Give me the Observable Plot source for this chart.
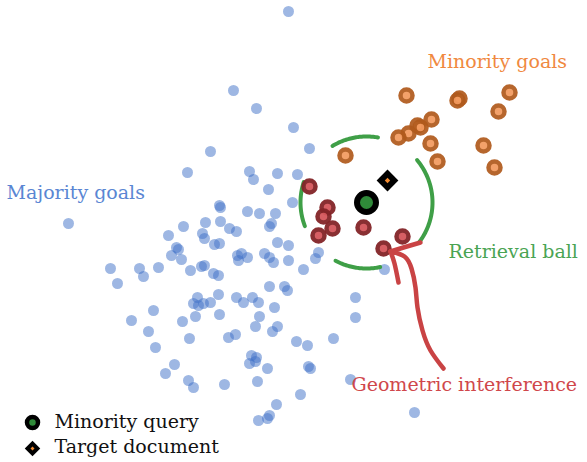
<!DOCTYPE html>
<html>
<head>
<meta charset="utf-8">
<script src="https://cdn.jsdelivr.net/npm/d3@7"></script>
<script src="https://cdn.jsdelivr.net/npm/@observablehq/plot@0.6"></script>
<style>
  html, body { margin: 0; padding: 0; background: #fff; }
  #chart svg { display: block; }
</style>
</head>
<body>
<div id="chart"></div>
<script>
// ---- Data (embedding coordinates, y grows downward) ----
const majorityGoals = [
  [288,11],[233,90],[256,108],[293,127],[210,151],[309,148],[187,172],[249,171],[253,179],
  [277,173],[297,174],[268,189],[292,202],[219,205],[220,207],[247,211],[259,213],[275,213],
  [205,222],[220,221],[183,226],[229,228],[236,231],[271,223],[269,226],[202,233],[204,238],
  [168,235],[214,244],[219,243],[277,242],[288,245],[176,247],[178,249],[171,255],[181,259],
  [237,255],[241,253],[238,260],[247,257],[264,253],[269,257],[273,262],[288,260],[110,268],
  [139,268],[143,276],[158,267],[190,270],[201,266],[204,265],[213,273],[218,275],[303,269],
  [315,258],[318,252],[117,283],[269,286],[284,286],[287,290],[218,294],[193,303],[197,297],
  [198,305],[203,303],[210,302],[236,297],[243,302],[252,297],[258,302],[153,310],[274,307],
  [131,320],[182,321],[195,316],[219,314],[259,316],[255,326],[148,331],[277,326],[272,331],
  [228,337],[235,334],[189,338],[296,341],[307,345],[155,347],[251,355],[256,357],[249,363],
  [255,361],[267,368],[308,366],[310,368],[174,364],[165,373],[188,380],[193,387],[224,384],
  [257,381],[300,394],[276,404],[269,415],[267,418],[258,420],[414,412],[68,223],[384,269],
  [355,297],[355,317],[333,338],[350,379]
];
const minorityGoals = [
  [406,95],[459,98],[457,100],[509,92],[498,111],[431,119],[417,125],[420,127],[408,133],
  [398,137],[430,143],[483,145],[437,161],[494,167],[345,155]
];
const interferingGoals = [
  [309,186],[327,207],[323,216],[332,228],[318,235],[363,227],[402,236],[383,248]
];
const minorityQuery = [[366,202]];
const targetDocument = [[387,180]];
const retrievalBall = {cx: 366, cy: 202, r: 66};
const ballArcs = [[80,121],[162,201],[242,282],[-37,40]]; // degrees, drawn segments
const arrowShaft = [[443,368],[430,350],[422,330],[417,307],[415,287],[411,268],[404,256],[390,251]];
const arrowBarbs = [
  {id: "upper", pts: [[390,251],[403,247],[420,242]]},
  {id: "lower", pts: [[390,251],[394,263],[398,282]]}
];
const labels = [
  {text: "Minority goals", x: 427, y: 67, color: "#f0893f"},
  {text: "Majority goals", x: 6, y: 198, color: "#5a86d3"},
  {text: "Retrieval ball", x: 448, y: 257, color: "#4aa453"},
  {text: "Geometric interference", x: 351, y: 390, color: "#d0474b"}
];
const legendItems = [
  {label: "Minority query", symbol: "circle", x: 32, y: 422, tx: 54, ty: 427},
  {label: "Target document", symbol: "diamond", x: 32, y: 448, tx: 54, ty: 452}
];

// ---- Derived tables ----
const pts = (arr) => arr.map(([x, y]) => ({x, y}));
const arcPts = ballArcs.flatMap(([a0, a1], i) =>
  d3.range(a0, a1 + 0.001, 1).map(a => ({
    id: i,
    x: retrievalBall.cx + retrievalBall.r * Math.cos(a * Math.PI / 180),
    y: retrievalBall.cy - retrievalBall.r * Math.sin(a * Math.PI / 180)
  }))
);
const barbPts = arrowBarbs.flatMap(b => b.pts.map(([x, y]) => ({id: b.id, x, y})));
const FONT = "DejaVu Serif";
const FS = 19;

const chart = Plot.plot({
  width: 587,
  height: 462,
  margin: 0,
  x: {domain: [0, 587], axis: null},
  y: {domain: [0, 462], reverse: true, axis: null},
  style: {background: "white", overflow: "visible"},
  marks: [
    Plot.dot(pts(majorityGoals), {x: "x", y: "y", r: 5.5, fill: "rgb(62,112,200)", fillOpacity: 0.5, stroke: "none"}),
    Plot.line(arcPts, {x: "x", y: "y", z: "id", stroke: "#3f9f47", strokeWidth: 4, curve: "linear"}),
    Plot.dot(pts(minorityGoals), {x: "x", y: "y", r: 6, fill: "#f29a5e", stroke: "#b05a1c", strokeWidth: 4.5, opacity: 0.92}),
    Plot.dot(pts(interferingGoals), {x: "x", y: "y", r: 6, fill: "#d4575c", stroke: "#832428", strokeWidth: 4.5, opacity: 0.95}),
    Plot.line(pts(arrowShaft), {x: "x", y: "y", stroke: "#c94344", strokeWidth: 4.5, curve: "natural"}),
    Plot.line(barbPts, {x: "x", y: "y", z: "id", stroke: "#c94344", strokeWidth: 4.5, curve: "natural"}),
    Plot.dot(pts(minorityQuery), {x: "x", y: "y", r: 9.5, fill: "#2f8a39", stroke: "black", strokeWidth: 6}),
    Plot.dot(pts(targetDocument), {x: "x", y: "y", symbol: "diamond2", r: 9.8, fill: "black", stroke: "none"}),
    Plot.dot(pts(targetDocument), {x: "x", y: "y", symbol: "diamond2", r: 2.4, fill: "#f28a30", stroke: "none"}),
    Plot.text(labels, {x: "x", y: "y", text: "text", fill: "color", textAnchor: "start", lineAnchor: "bottom",
      fontFamily: FONT, fontSize: FS}),
    // legend
    Plot.dot(legendItems.filter(d => d.symbol === "circle"), {x: "x", y: "y", r: 5.5, fill: "#2f8a39", stroke: "black", strokeWidth: 4.5}),
    Plot.dot(legendItems.filter(d => d.symbol === "diamond"), {x: "x", y: "y", symbol: "diamond2", r: 7, fill: "black", stroke: "none"}),
    Plot.dot(legendItems.filter(d => d.symbol === "diamond"), {x: "x", y: "y", symbol: "diamond2", r: 1.8, fill: "#f28a30", stroke: "none"}),
    Plot.text(legendItems, {x: "tx", y: "ty", text: "label", fill: "#111", textAnchor: "start", lineAnchor: "bottom",
      fontFamily: FONT, fontSize: FS})
  ]
});
document.getElementById("chart").append(chart);
</script>
</body>
</html>
